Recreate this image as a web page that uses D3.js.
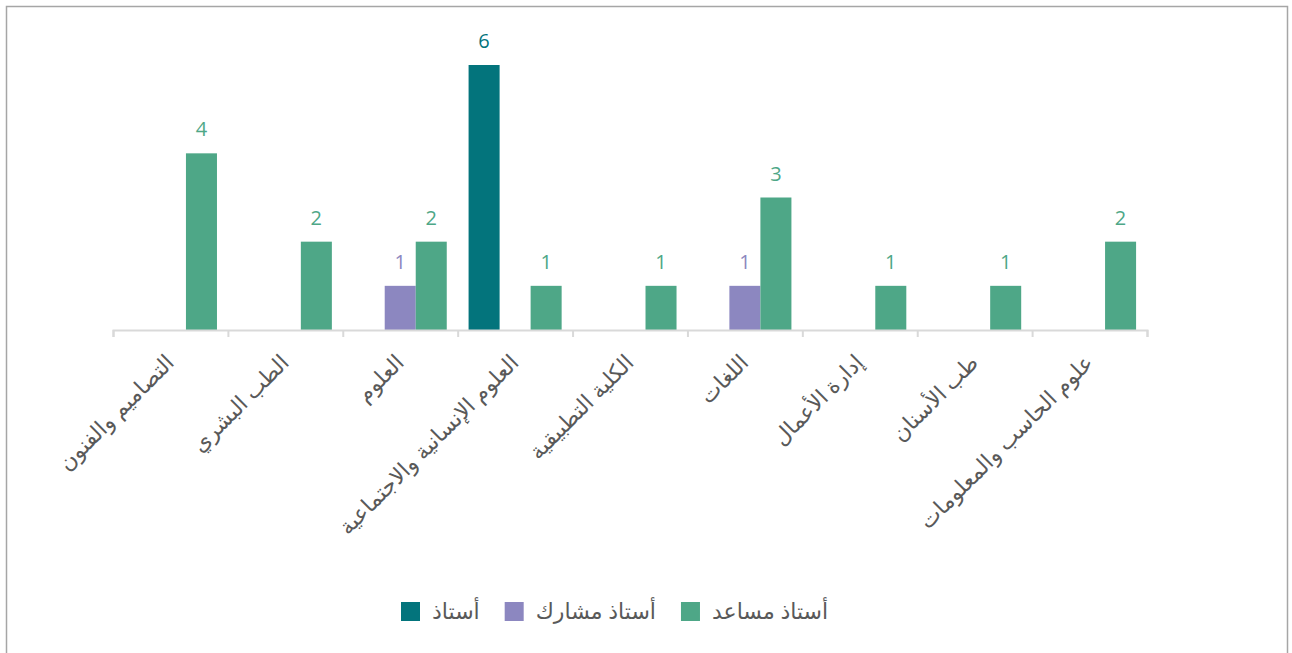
<!DOCTYPE html>
<html lang="ar">
<head>
    <meta charset="UTF-8">
    <title>Grouped bars</title>
    <script src="https://d3js.org/d3.v7.min.js"></script>
    <style>
        body { margin: 0; background: #fff; }
        svg { display: block; font-family: "Open Sans", "Noto Sans", "DejaVu Sans", sans-serif; }
        .frame { fill: none; stroke: #a6a6a6; stroke-width: 1.5px; }
        .axis path, .axis line { stroke: #d9d9d9; stroke-width: 2px; }
        .cat-label { fill: #595959; font-size: 22px; }
        .legend text { fill: #595959; font-size: 22px; }
        .value { font-size: 20px; text-anchor: middle; }
    </style>
</head>
<body>
    <svg width="1292" height="653"></svg>
    <script>
        const categories = [
            "التصاميم والفنون",
            "الطب البشري",
            "العلوم",
            "العلوم الإنسانية والاجتماعية",
            "الكلية التطبيقية",
            "اللغات",
            "إدارة الأعمال",
            "طب الأسنان",
            "علوم الحاسب والمعلومات"
        ];
        const seriesNames = ["أستاذ", "أستاذ مشارك", "أستاذ مساعد"];
        const professor = [0, 0, 0, 6, 0, 0, 0, 0, 0];
        const associate = [0, 0, 1, 0, 0, 1, 0, 0, 0];
        const assistant = [4, 2, 2, 1, 1, 3, 1, 1, 2];
        const colors = ["#03747c", "#8c87c0", "#4ea787"];

        const series = [professor, associate, assistant];

        const svg = d3.select("svg");

        svg.append("rect")
            .attr("class", "frame")
            .attr("x", 6.5).attr("y", 6.5)
            .attr("width", 1281).attr("height", 660);

        const left = 113, right = 1147, baseY = 330, topY = 65;

        const x0 = d3.scaleBand()
            .domain(categories)
            .range([left, right])
            .padding(0);

        const pad = x0.bandwidth() * 0.095;
        const x1 = d3.scaleBand()
            .domain(seriesNames)
            .range([pad, x0.bandwidth() - pad]);

        const y = d3.scaleLinear()
            .domain([0, 6])
            .range([baseY, topY]);

        // bars
        const groups = svg.append("g")
            .selectAll("g")
            .data(categories)
            .join("g")
            .attr("transform", d => `translate(${x0(d)},0)`);

        groups.selectAll("rect")
            .data((d, i) => series.map((s, k) => ({ name: seriesNames[k], value: s[i], k })))
            .join("rect")
            .filter(d => d.value > 0)
            .attr("x", d => x1(d.name))
            .attr("y", d => y(d.value))
            .attr("width", x1.bandwidth())
            .attr("height", d => y(0) - y(d.value))
            .attr("fill", d => colors[d.k]);

        groups.selectAll("text")
            .data((d, i) => series.map((s, k) => ({ name: seriesNames[k], value: s[i], k })).filter(d => d.value > 0))
            .join("text")
            .attr("class", "value")
            .attr("x", d => x1(d.name) + x1.bandwidth() / 2)
            .attr("y", d => y(d.value) - 17)
            .attr("fill", d => colors[d.k])
            .text(d => d.value);

        // category axis with ticks at boundaries
        const xb = d3.scaleLinear().domain([0, categories.length]).range([left, right]);
        svg.append("g")
            .attr("class", "axis")
            .attr("transform", `translate(0,${baseY})`)
            .call(d3.axisBottom(xb).ticks(categories.length).tickSize(7).tickSizeOuter(7).tickFormat(""));

        svg.append("g")
            .selectAll("text")
            .data(categories)
            .join("text")
            .attr("class", "cat-label")
            .attr("text-anchor", "end")
            .attr("transform", d => `translate(${x0(d) + x0.bandwidth() / 2 + 5},${baseY + 34}) rotate(-45)`)
            .text(d => d);

        // legend
        const legend = svg.append("g").attr("class", "legend");
        let lx = 401;
        seriesNames.forEach((name, k) => {
            legend.append("rect")
                .attr("x", lx).attr("y", 602)
                .attr("width", 19).attr("height", 19)
                .attr("fill", colors[k]);
            const t = legend.append("text")
                .attr("x", lx + 31).attr("y", 619)
                .text(name);
            lx += 31 + t.node().getComputedTextLength() + 25;
        });
    </script>
</body>
</html>
